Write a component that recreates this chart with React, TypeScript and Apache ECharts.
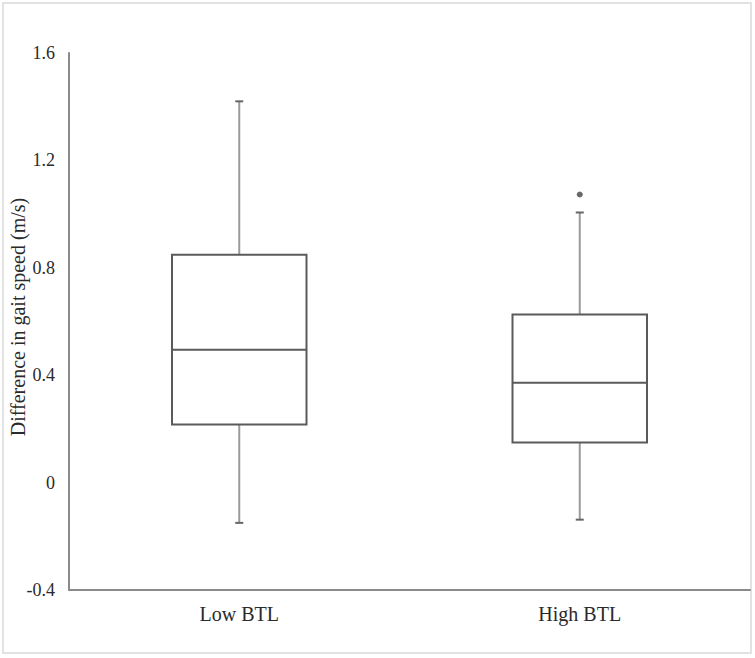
import React, { useEffect, useRef } from "react";
import * as echarts from "echarts";

const categories = ["Low BTL", "High BTL"];
// [min, Q1, median, Q3, max]
const boxValues = [
  [-0.15, 0.216, 0.495, 0.849, 1.42],
  [-0.138, 0.149, 0.372, 0.626, 1.006],
];
const outliers = [[1, 1.073]];
const yTicks = { min: -0.4, max: 1.6, interval: 0.4 };
const yAxisTitle = "Difference in gait speed (m/s)";

export default function App() {
  const ref = useRef<HTMLDivElement>(null);
  useEffect(() => {
    const chart = echarts.init(ref.current!, null, { renderer: "svg" });
    const font = "Liberation Serif, serif";
    chart.setOption({
      animation: false,
      backgroundColor: "#ffffff",
      grid: { left: 69, top: 53, right: 5, bottom: 68 },
      xAxis: {
        type: "category",
        data: categories,
        axisLine: { onZero: false, lineStyle: { color: "#8a8a8a", width: 2 } },
        axisTick: { show: false },
        axisLabel: { color: "#2a2a2a", fontFamily: font, fontSize: 20, margin: 14 },
      },
      yAxis: {
        type: "value",
        min: yTicks.min,
        max: yTicks.max,
        interval: yTicks.interval,
        axisLine: { show: true, lineStyle: { color: "#8a8a8a", width: 2 } },
        axisTick: { show: false },
        splitLine: { show: false },
        axisLabel: {
          color: "#2a2a2a",
          fontFamily: font,
          fontSize: 18,
          margin: 14,
          formatter: (v: number) => String(Math.round(v * 10) / 10),
        },
      },
      graphic: [
        {
          type: "rect",
          shape: { x: 3, y: 3, width: 748, height: 650 },
          style: { fill: "none", stroke: "#e2e2e2", lineWidth: 2 },
          silent: true,
          z: -1,
        },
        {
          type: "text",
          x: 18,
          y: 317,
          rotation: Math.PI / 2,
          style: {
            text: yAxisTitle,
            fontFamily: font,
            fontSize: 20,
            fill: "#2a2a2a",
            align: "center",
            verticalAlign: "middle",
          },
        },
      ],
      series: [
        {
          type: "custom",
          data: boxValues.map((b, i) => [i, ...b]),
          encode: { x: 0, y: [1, 2, 3, 4, 5] },
          renderItem: (params: any, api: any) => {
            const i = api.value(0);
            const mn = api.coord([i, api.value(1)]);
            const q1 = api.coord([i, api.value(2)]);
            const md = api.coord([i, api.value(3)]);
            const q3 = api.coord([i, api.value(4)]);
            const mx = api.coord([i, api.value(5)]);
            const cx = mn[0];
            const bw = api.size([1, 0])[0] * 0.395;
            const half = bw / 2;
            const cap = 4;
            const boxStyle = { stroke: "#5a5a5a", lineWidth: 2, fill: "none" };
            const whiskerStyle = { stroke: "#9a9a9a", lineWidth: 2 };
            const capStyle = { stroke: "#666", lineWidth: 2 };
            return {
              type: "group",
              children: [
                { type: "line", shape: { x1: cx, y1: q3[1], x2: cx, y2: mx[1] }, style: whiskerStyle },
                { type: "line", shape: { x1: cx, y1: q1[1], x2: cx, y2: mn[1] }, style: whiskerStyle },
                { type: "line", shape: { x1: cx - cap, y1: mx[1], x2: cx + cap, y2: mx[1] }, style: capStyle },
                { type: "line", shape: { x1: cx - cap, y1: mn[1], x2: cx + cap, y2: mn[1] }, style: capStyle },
                {
                  type: "rect",
                  shape: { x: cx - half, y: q3[1], width: bw, height: q1[1] - q3[1] },
                  style: { ...boxStyle, fill: "#ffffff" },
                },
                { type: "line", shape: { x1: cx - half, y1: md[1], x2: cx + half, y2: md[1] }, style: boxStyle },
              ],
            };
          },
        },
        {
          type: "scatter",
          data: outliers,
          symbol: "circle",
          symbolSize: 6,
          itemStyle: { color: "#444" },
        },
      ],
    });
    return () => chart.dispose();
  }, []);
  return (
    <div
      ref={ref}
      style={{ position: "fixed", left: 0, top: 0, width: 755, height: 658 }}
    />
  );
}
